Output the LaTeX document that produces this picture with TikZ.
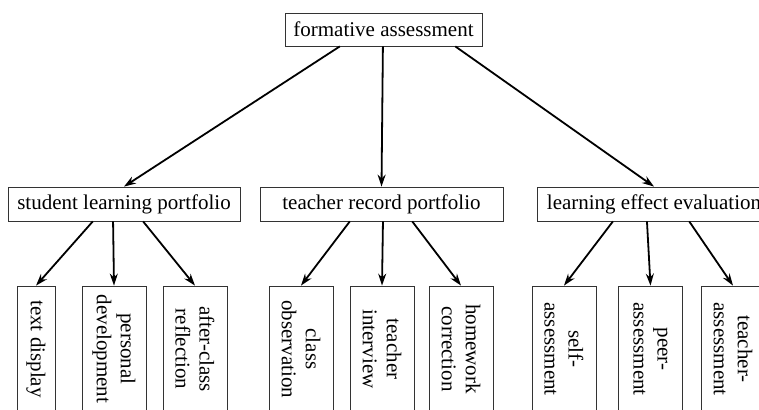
\documentclass[tikz,border=0pt]{standalone}
\usepackage{fontspec}
\setmainfont{Liberation Serif}
\usetikzlibrary{arrows.meta,calc}
\begin{document}
\begin{tikzpicture}[x=1pt,y=-1pt,
  box/.style={draw=black!80,line width=0.8pt,rectangle,inner sep=0pt,
    font=\fontsize{21}{24}\selectfont},
  topbox/.style={box,minimum width=#1,minimum height=34},
  leafbox/.style={box,rotate=-90,minimum width=126,minimum height=64,align=center},
  link/.style={line width=1.8pt,-{Stealth[length=12pt,width=8pt]}}]
\useasboundingbox (0,0) rectangle (759,409);
\clip (0,0) rectangle (759,409);

% root
\node[topbox=197,minimum height=33] (fa) at (383.5,29.5) {formative assessment};

% second level
\node[topbox=232] (slp) at (124,204) {student learning portfolio};
\node[topbox=243] (trp) at (381.5,204) {teacher record portfolio};
\node[topbox=234] (lee) at (654,204) {learning effect evaluation};

% leaves
\node[leafbox,minimum height=38] (td) at (36,349) {text display};
\node[leafbox] (pd) at (114,349) {personal\\development};
\node[leafbox] (ac) at (195,349) {after-class\\reflection};
\node[leafbox] (co) at (301,349) {class\\observation};
\node[leafbox] (ti) at (382,349) {teacher\\interview};
\node[leafbox] (hc) at (461,349) {homework\\correction};
\node[leafbox] (sa) at (564,349) {self-\\assessment};
\node[leafbox] (pa) at (650.5,349) {peer-\\assessment};
\node[leafbox] (ta) at (733,349) {teacher-\\assessment};

% root to second level
\draw[link] ($(fa.south west)!0.279!(fa.south east)$) -- (slp.north);
\draw[link] ($(fa.south west)!0.497!(fa.south east)$) -- (trp.north);
\draw[link] ($(fa.south west)!0.863!(fa.south east)$) -- (lee.north);

% second level to leaves
\draw[link] ($(slp.south west)!0.366!(slp.south east)$) -- (td.west);
\draw[link] ($(slp.south west)!0.453!(slp.south east)$) -- (pd.west);
\draw[link] ($(slp.south west)!0.582!(slp.south east)$) -- (ac.west);
\draw[link] ($(trp.south west)!0.37!(trp.south east)$) -- (co.west);
\draw[link] ($(trp.south west)!0.506!(trp.south east)$) -- (ti.west);
\draw[link] ($(trp.south west)!0.626!(trp.south east)$) -- (hc.west);
\draw[link] ($(lee.south west)!0.325!(lee.south east)$) -- (sa.west);
\draw[link] ($(lee.south west)!0.47!(lee.south east)$) -- (pa.west);
\draw[link] ($(lee.south west)!0.65!(lee.south east)$) -- (ta.west);
\end{tikzpicture}
\end{document}
